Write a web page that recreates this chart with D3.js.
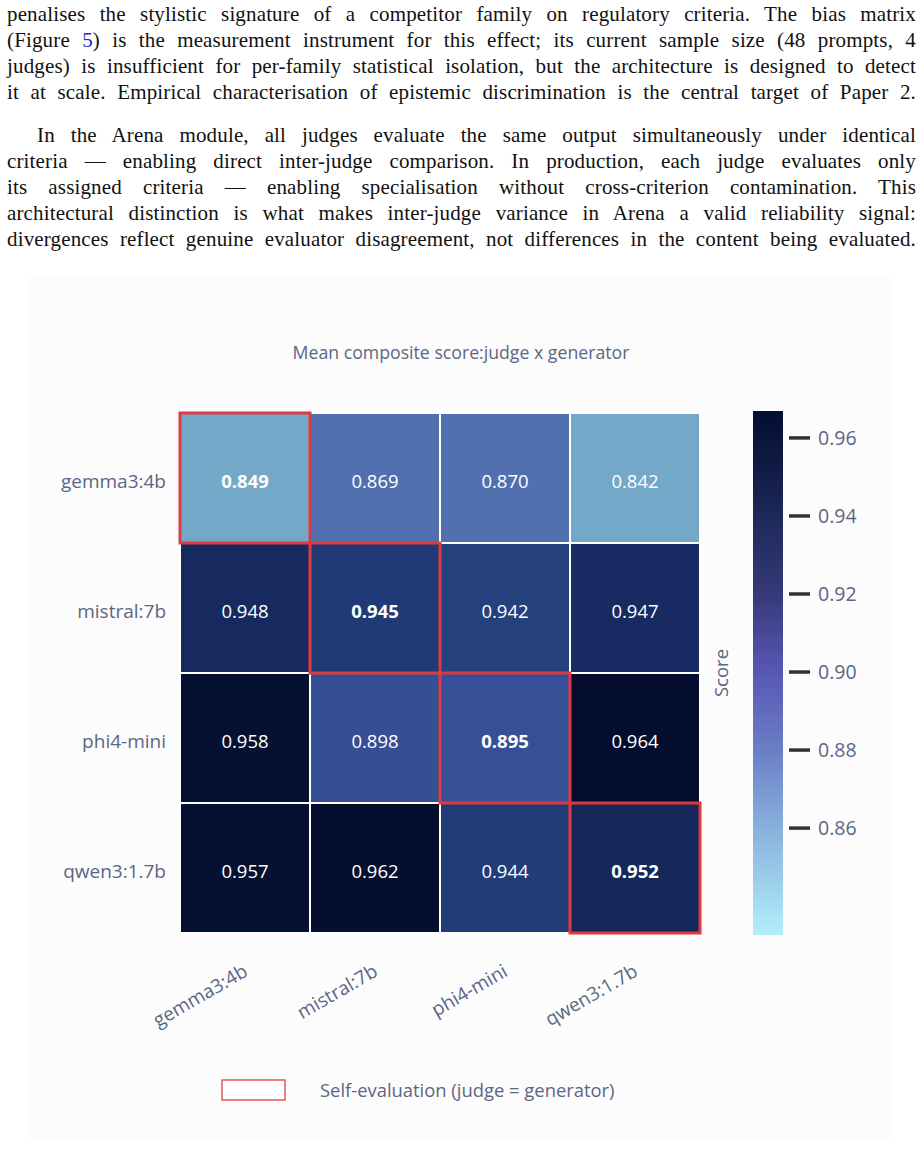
<!DOCTYPE html>
<html>
<head>
<meta charset="utf-8">
<script src="https://cdn.jsdelivr.net/npm/d3@7/dist/d3.min.js"></script>
<style>
  html, body { margin: 0; padding: 0; background: #ffffff; }
  body { width: 923px; height: 1164px; position: relative; overflow: hidden; }
  .line { position: absolute; left: 7px; width: 909px; height: 26px; line-height: 26px;
          font-family: "Liberation Serif", serif; font-size: 21px; letter-spacing: 0.15px; color: #111;
          text-align: justify; text-align-last: justify; white-space: normal; }
  .ref { color: #2424c8; }
  svg { position: absolute; left: 0; top: 0; }
</style>
</head>
<body>
<script>
// ---------------- data ----------------
const paragraphLines = [
  "penalises the stylistic signature of a competitor family on regulatory criteria. The bias matrix",
  "(Figure <span class='ref'>5</span>) is the measurement instrument for this effect; its current sample size (48 prompts, 4",
  "judges) is insufficient for per-family statistical isolation, but the architecture is designed to detect",
  "it at scale. Empirical characterisation of epistemic discrimination is the central target of Paper 2."
];
const paragraph2Lines = [
  "In the Arena module, all judges evaluate the same output simultaneously under identical",
  "criteria — enabling direct inter-judge comparison. In production, each judge evaluates only",
  "its assigned criteria — enabling specialisation without cross-criterion contamination. This",
  "architectural distinction is what makes inter-judge variance in Arena a valid reliability signal:",
  "divergences reflect genuine evaluator disagreement, not differences in the content being evaluated."
];
const chartTitle = "Mean composite score:judge x generator";
const judges = ["gemma3:4b", "mistral:7b", "phi4-mini", "qwen3:1.7b"];
const generators = ["gemma3:4b", "mistral:7b", "phi4-mini", "qwen3:1.7b"];
const scores = [
  [0.849, 0.869, 0.870, 0.842],
  [0.948, 0.945, 0.942, 0.947],
  [0.958, 0.898, 0.895, 0.964],
  [0.957, 0.962, 0.944, 0.952]
];
const colorbarTicks = [0.86, 0.88, 0.90, 0.92, 0.94, 0.96];
const colorbarRange = [0.8326, 0.9669];
const colorbarTitle = "Score";
const legendLabel = "Self-evaluation (judge = generator)";

// ---------------- text ----------------
const body = d3.select("body");
paragraphLines.forEach((t, i) => {
  body.append("div").attr("class", "line").style("top", (1 + i * 26) + "px").html(t);
});
paragraph2Lines.forEach((t, i) => {
  const d = body.append("div").attr("class", "line").style("top", (122 + i * 26) + "px").html(t);
  if (i === 0) d.style("left", "37px").style("width", "879px");
});

// ---------------- chart ----------------
const W = 923, H = 1164;
const svg = body.append("svg").attr("width", W).attr("height", H);
const font = "'Open Sans', sans-serif";
const txtCol = "#5b6684";

svg.append("rect").attr("x", 29).attr("y", 278).attr("width", 864).attr("height", 862).attr("fill", "#fcfcfc");

svg.append("text").attr("x", 461).attr("y", 359).attr("text-anchor", "middle")
  .attr("font-family", font).attr("font-size", 17.7).attr("fill", txtCol).text(chartTitle);

const x = d3.scaleBand().domain(generators).range([180, 700]);
const y = d3.scaleBand().domain(judges).range([413, 933]);

const cellColor = d3.scaleLinear()
  .domain([0.842, 0.850, 0.868, 0.871, 0.895, 0.942, 0.945, 0.947, 0.952, 0.957, 0.964])
  .range(["#74a8c8", "#74a8c8", "#5270b0", "#5270b0", "#364f96", "#24407d", "#1f3a76", "#172a62", "#14285a", "#061132", "#040d2d"])
  .clamp(true);

const cells = [];
scores.forEach((row, i) => row.forEach((v, j) => cells.push({ judge: judges[i], gen: generators[j], v, self: i === j })));

const g = svg.append("g");
g.selectAll("rect.cell").data(cells).join("rect").attr("class", "cell")
  .attr("x", d => x(d.gen)).attr("y", d => y(d.judge))
  .attr("width", x.bandwidth()).attr("height", y.bandwidth())
  .attr("fill", d => cellColor(d.v)).attr("stroke", "#ffffff").attr("stroke-width", 2);

g.selectAll("text.val").data(cells).join("text").attr("class", "val")
  .attr("x", d => x(d.gen) + x.bandwidth() / 2).attr("y", d => y(d.judge) + y.bandwidth() / 2 + 3)
  .attr("dy", "0.36em").attr("text-anchor", "middle")
  .attr("font-family", font).attr("font-size", 18.5).attr("fill", "#ffffff")
  .attr("font-weight", d => d.self ? 700 : 400)
  .text(d => d3.format(".3f")(d.v));

g.selectAll("rect.self").data(cells.filter(d => d.self)).join("rect").attr("class", "self")
  .attr("x", d => x(d.gen)).attr("y", d => y(d.judge))
  .attr("width", x.bandwidth()).attr("height", y.bandwidth())
  .attr("fill", "none").attr("stroke", "#e0393e").attr("stroke-width", 3);

// y labels
svg.append("g").selectAll("text").data(judges).join("text")
  .attr("x", 166).attr("y", d => y(d) + y.bandwidth() / 2 + 3).attr("dy", "0.36em")
  .attr("text-anchor", "end").attr("font-family", font).attr("font-size", 19).attr("fill", txtCol)
  .text(d => d);

// x labels (rotated)
svg.append("g").selectAll("text").data(generators).join("text")
  .attr("transform", d => `translate(${x(d) + x.bandwidth() / 2 + 4},${975}) rotate(-30)`)
  .attr("text-anchor", "end")
  .attr("font-family", font).attr("font-size", 19).attr("fill", txtCol)
  .text(d => d);

// colorbar
const cb = d3.scaleLinear().domain(colorbarRange).range([935, 411]);
const barColor = d3.scaleLinear()
  .domain([0.8326, 0.86, 0.88, 0.90, 0.92, 0.94, 0.9669])
  .range(["#b2eefa", "#88b0dc", "#6a7ec6", "#5858b4", "#363a78", "#1c2858", "#040e30"]);
const defs = svg.append("defs");
const grad = defs.append("linearGradient").attr("id", "cbgrad").attr("x1", 0).attr("x2", 0).attr("y1", 1).attr("y2", 0);
d3.range(0, 1.0001, 0.05).forEach(t => {
  const v = colorbarRange[0] + t * (colorbarRange[1] - colorbarRange[0]);
  grad.append("stop").attr("offset", t).attr("stop-color", barColor(v));
});
svg.append("rect").attr("x", 753).attr("y", cb(colorbarRange[1])).attr("width", 30)
  .attr("height", cb(colorbarRange[0]) - cb(colorbarRange[1])).attr("fill", "url(#cbgrad)");
const cbAxis = svg.append("g");
cbAxis.selectAll("line").data(colorbarTicks).join("line")
  .attr("x1", 789).attr("x2", 810).attr("y1", d => cb(d)).attr("y2", d => cb(d))
  .attr("stroke", "#333333").attr("stroke-width", 3.5);
cbAxis.selectAll("text").data(colorbarTicks).join("text")
  .attr("x", 818).attr("y", d => cb(d)).attr("dy", "0.36em")
  .attr("font-family", font).attr("font-size", 19.5).attr("fill", txtCol)
  .text(d => d3.format(".2f")(d));
svg.append("text").attr("transform", `translate(728,${(cb(colorbarRange[0]) + cb(colorbarRange[1])) / 2}) rotate(-90)`)
  .attr("text-anchor", "middle").attr("font-family", font).attr("font-size", 18.5).attr("fill", txtCol)
  .text(colorbarTitle);

// legend
svg.append("rect").attr("x", 222).attr("y", 1080).attr("width", 63).attr("height", 20)
  .attr("fill", "#ffffff").attr("stroke", "#e85454").attr("stroke-width", 1.5);
svg.append("text").attr("x", 320).attr("y", 1090).attr("dy", "0.36em")
  .attr("font-family", font).attr("font-size", 18.4).attr("fill", txtCol).text(legendLabel);
</script>
</body>
</html>
